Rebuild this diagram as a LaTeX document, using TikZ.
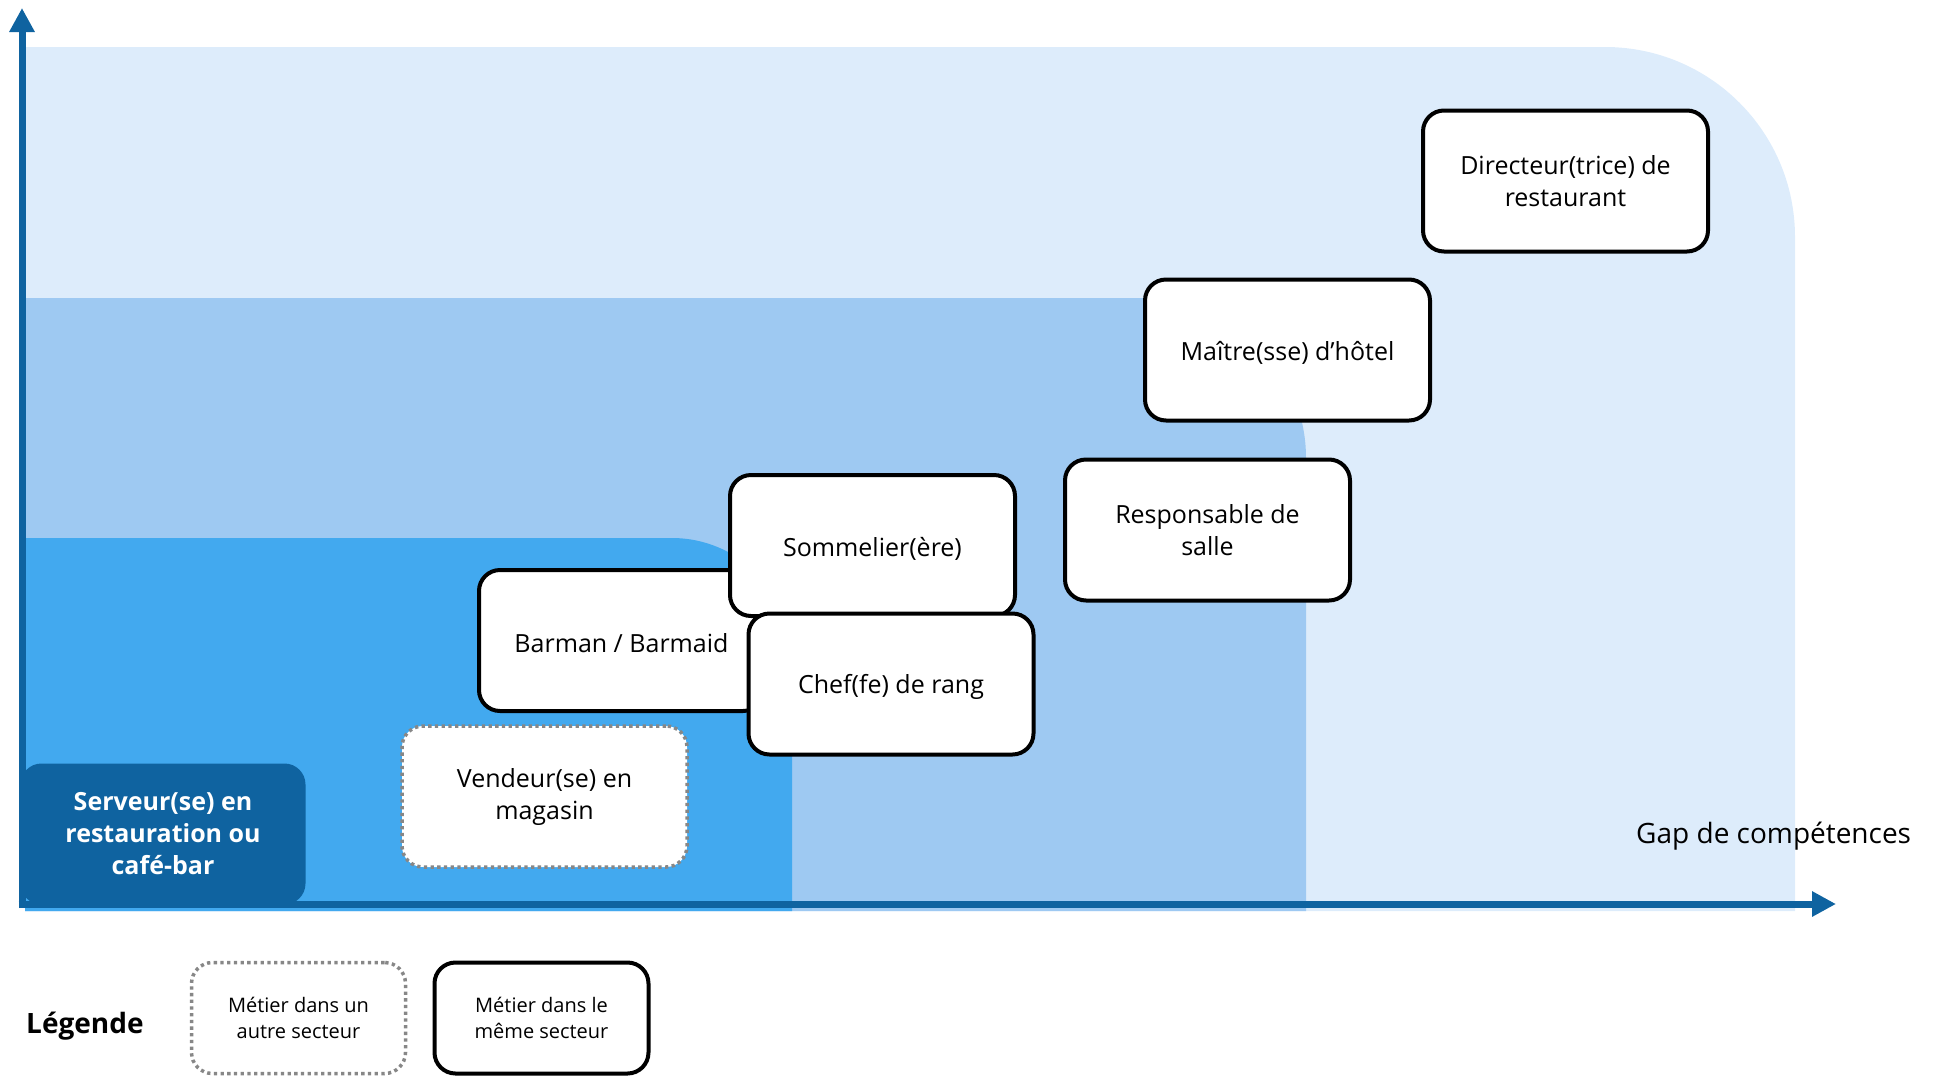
\documentclass[tikz,border=0pt]{standalone}
\usepackage{fontspec}
\setmainfont{Open Sans}
\usetikzlibrary{arrows.meta}
\definecolor{lightreg}{HTML}{DDECFB}
\definecolor{midreg}{HTML}{9EC9F2}
\definecolor{darkreg}{HTML}{42A9EF}
\definecolor{axisblue}{HTML}{0F63A0}
\definecolor{dotgray}{HTML}{878787}
\begin{document}
\begin{tikzpicture}[x=1pt,y=-1pt,
  jobbox/.style={draw=black, line width=4pt, fill=white, rounded corners=21pt,
    minimum width=285pt, minimum height=141pt, align=center, inner sep=0pt,
    font=\fontsize{25}{32}\selectfont,
    execute at begin node={\rule{0pt}{1em}}},
  otherbox/.style={jobbox, draw=dotgray, line width=3.5pt, dash pattern=on 3.3pt off 3.4pt},
  startbox/.style={jobbox, draw=none, fill=axisblue, text=white,
    font=\fontsize{25}{32}\selectfont\bfseries},
  legsame/.style={jobbox, minimum width=214pt, minimum height=111pt,
    font=\fontsize{20}{26}\selectfont},
  legother/.style={legsame, draw=dotgray, line width=3.5pt, dash pattern=on 3.3pt off 3.4pt},
  axisline/.style={draw=axisblue, line width=7pt, -{Triangle[length=24pt,width=24pt]}},
  plain/.style={inner sep=0pt, font=\fontsize{28}{34}\selectfont}]
\useasboundingbox (0,0) rectangle (1936,1077);
% regions
\fill[lightreg] (25,911) -- (25,47) -- (1605,47)
  .. controls (1710,47) and (1795,132) .. (1795,237) -- (1795,911) -- cycle;
\fill[midreg] (25,911) -- (25,298) -- (1146,298)
  .. controls (1234,298) and (1306,370) .. (1306,458) -- (1306,911) -- cycle;
\fill[darkreg] (25,911) -- (25,538) -- (672,538)
  .. controls (738,538) and (792,592) .. (792,658) -- (792,911) -- cycle;
% start job
\node[startbox] (serveur) at (163,834) {Serveur(se) en\\restauration ou\\café-bar};
% axes
\coordinate (ytop) at (22,8);
\coordinate (xend) at (1836,904);
\coordinate (Oy) at (22,908);
\coordinate (Ox) at (18.5,904);
\draw[axisline] (Oy) -- (ytop);
\draw[axisline] (Ox) -- (xend);
% jobs
\node[otherbox] (vendeur) at (544.5,796.5) {Vendeur(se) en\\magasin};
\node[jobbox] (barman) at (621.5,640.5) {Barman / Barmaid};
\node[jobbox] (somm) at (872.5,545.5) {Sommelier(ère)};
\node[jobbox] (chef) at (891,684) {Chef(fe) de rang};
\node[jobbox] (resp) at (1207.5,530) {Responsable de\\salle};
\node[jobbox] (maitre) at (1287.5,350) {Maître(sse) d’hôtel};
\node[jobbox] (dir) at (1565.5,181) {Directeur(trice) de\\restaurant};
% axis label
\node[plain, anchor=base west] (gap) at (1636,843) {Gap de compétences};
% legend
\node[inner sep=0pt, anchor=base west, font=\fontsize{28}{34}\selectfont\bfseries] (leg) at (26,1033) {Légende};
\node[legother] (legA) at (298.5,1018) {Métier dans un\\autre secteur};
\node[legsame] (legB) at (541.5,1018) {Métier dans le\\même secteur};
\end{tikzpicture}
\end{document}
